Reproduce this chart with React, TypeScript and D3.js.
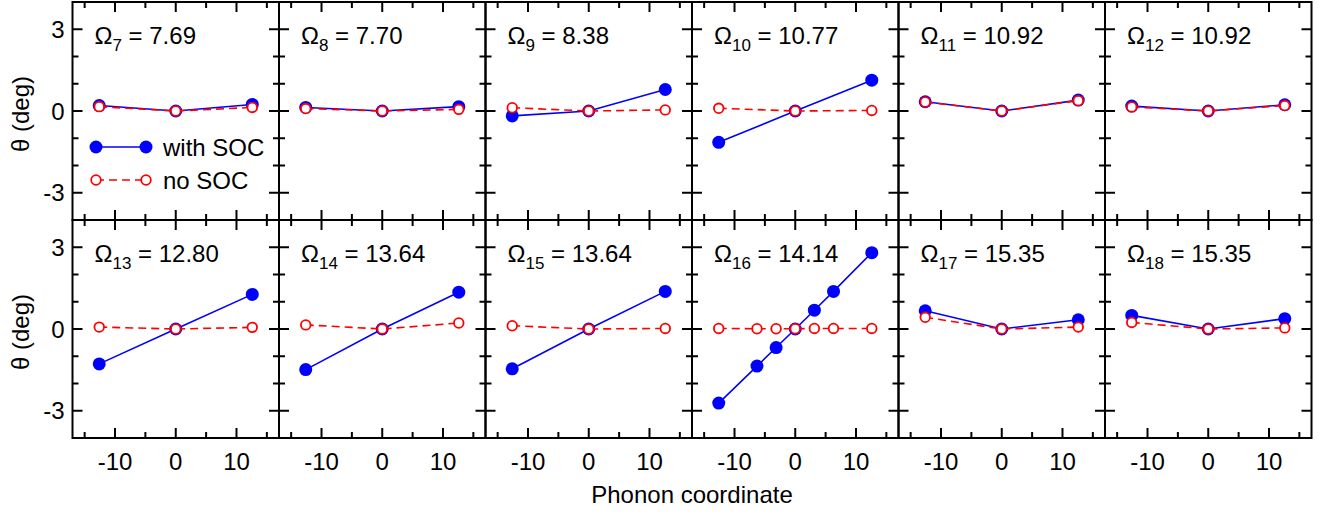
import React from "react";
import * as d3 from "d3";

const modeIndices = [7, 8, 9, 10, 11, 12, 13, 14, 15, 16, 17, 18];
const frequencies = ["7.69", "7.70", "8.38", "10.77", "10.92", "10.92", "12.80", "13.64", "13.64", "14.14", "15.35", "15.35"];

const coords3 = [-12.6, 0, 12.6];
const coords7 = [-12.6, -6.3, -3.15, 0, 3.15, 6.3, 12.6];

const withSOC: number[][] = [
  [0.2, 0, 0.24],
  [0.13, 0, 0.16],
  [-0.18, 0, 0.79],
  [-1.15, 0, 1.13],
  [0.34, 0, 0.4],
  [0.18, 0, 0.23],
  [-1.28, 0, 1.27],
  [-1.49, 0, 1.35],
  [-1.46, 0, 1.38],
  [-2.72, -1.36, -0.68, 0, 0.69, 1.38, 2.8],
  [0.67, 0, 0.34],
  [0.5, 0, 0.38],
];

const noSOC: number[][] = [
  [0.16, 0, 0.13],
  [0.09, 0, 0.06],
  [0.12, 0, 0.04],
  [0.1, 0, 0.02],
  [0.33, 0, 0.38],
  [0.15, 0, 0.2],
  [0.07, 0, 0.06],
  [0.15, 0, 0.22],
  [0.12, 0, 0.02],
  [0.02, 0.01, 0.01, 0.01, 0.02, 0.02, 0.02],
  [0.43, 0, 0.07],
  [0.24, 0, 0.04],
];

const yTickLabels = [-3, 0, 3];
const xTickLabels = [-10, 0, 10];
const yMinorTicks = [-4, -3, -2, -1, 0, 1, 2, 3, 4];
const xMinorTicks = [-15, -10, -5, 0, 5, 10, 15];

const W = 1334;
const H = 514;
const left = 72.5;
const right = 1311.5;
const rowTops = [2, 220];
const rowH = 218;
const nCols = 6;
const colW = (right - left) / nCols;
const FONT = "'Liberation Sans', Arial, Helvetica, sans-serif";
const BLUE = "#0000ff";
const RED = "#ff0000";

function Panel({ idx }: { idx: number }) {
  const col = idx % nCols;
  const row = Math.floor(idx / nCols);
  const x0 = left + col * colW;
  const y0 = rowTops[row];
  const xs = d3.scaleLinear().domain([-17, 17]).range([x0, x0 + colW]);
  const ys = d3.scaleLinear().domain([-4, 4]).range([y0 + rowH, y0]);
  const xc = withSOC[idx].length === 7 ? coords7 : coords3;
  const line = d3
    .line<[number, number]>()
    .x((d) => xs(d[0]))
    .y((d) => ys(d[1]));
  const socPts = xc.map((x, i) => [x, withSOC[idx][i]] as [number, number]);
  const noPts = xc.map((x, i) => [x, noSOC[idx][i]] as [number, number]);
  const major = 10;
  const minor = 6;
  return (
    <g>
      {yMinorTicks.map((t) => {
        const len = yTickLabels.includes(t) ? major : minor;
        const y = ys(t);
        return (
          <g key={"y" + t}>
            <line x1={x0} x2={x0 + len} y1={y} y2={y} stroke="#000" strokeWidth={2} />
            <line x1={x0 + colW - len} x2={x0 + colW} y1={y} y2={y} stroke="#000" strokeWidth={2} />
          </g>
        );
      })}
      {xMinorTicks.map((t) => {
        const len = xTickLabels.includes(t) ? major : minor;
        const x = xs(t);
        return (
          <g key={"x" + t}>
            <line x1={x} x2={x} y1={y0 + rowH} y2={y0 + rowH - len} stroke="#000" strokeWidth={2} />
            <line x1={x} x2={x} y1={y0} y2={y0 + len} stroke="#000" strokeWidth={2} />
          </g>
        );
      })}
      <rect x={x0} y={y0} width={colW} height={rowH} fill="none" stroke="#000" strokeWidth={2} />
      <text x={x0 + 22} y={y0 + 42} fontFamily={FONT} fontSize={24} fill="#000">
        Ω
        <tspan fontSize={17} dy={7}>{modeIndices[idx]}</tspan>
        <tspan dy={-7}>{" = " + frequencies[idx]}</tspan>
      </text>
      <path d={line(socPts) || ""} fill="none" stroke={BLUE} strokeWidth={1.6} />
      {socPts.map((p, i) => (
        <circle key={"s" + i} cx={xs(p[0])} cy={ys(p[1])} r={6.5} fill={BLUE} />
      ))}
      <path d={line(noPts) || ""} fill="none" stroke={RED} strokeWidth={1.6} strokeDasharray="8,5" />
      {noPts.map((p, i) => (
        <circle key={"n" + i} cx={xs(p[0])} cy={ys(p[1])} r={4.8} fill="#fff" stroke={RED} strokeWidth={1.8} />
      ))}
      {col === 0 &&
        yTickLabels.map((t) => (
          <text key={"yl" + t} x={x0 - 8} y={ys(t) + 8.5} textAnchor="end" fontFamily={FONT} fontSize={24}>
            {t}
          </text>
        ))}
      {row === 1 &&
        xTickLabels.map((t) => (
          <text key={"xl" + t} x={xs(t)} y={y0 + rowH + 32} textAnchor="middle" fontFamily={FONT} fontSize={24}>
            {t}
          </text>
        ))}
    </g>
  );
}

export default function App() {
  const legendX1 = 96;
  const legendX2 = 146;
  return (
    <svg width={W} height={H} style={{ position: "absolute", left: 0, top: 0, background: "#fff" }}>
      <rect x={0} y={0} width={W} height={H} fill="#fff" />
      {modeIndices.map((_, i) => (
        <Panel key={i} idx={i} />
      ))}
      {rowTops.map((t, i) => (
        <text
          key={"ylab" + i}
          transform={`translate(29, ${t + rowH / 2 + 3}) rotate(-90)`}
          textAnchor="middle"
          fontFamily={FONT}
          fontSize={24}
        >
          θ (deg)
        </text>
      ))}
      <text x={(left + right) / 2} y={503} textAnchor="middle" fontFamily={FONT} fontSize={24}>
        Phonon coordinate
      </text>
      <g>
        <line x1={legendX1} x2={legendX2} y1={147} y2={147} stroke={BLUE} strokeWidth={1.6} />
        <circle cx={legendX1} cy={147} r={6.5} fill={BLUE} />
        <circle cx={legendX2} cy={147} r={6.5} fill={BLUE} />
        <text x={163} y={156} fontFamily={FONT} fontSize={24}>with SOC</text>
        <line x1={legendX1} x2={legendX2} y1={180} y2={180} stroke={RED} strokeWidth={1.6} strokeDasharray="8,5" />
        <circle cx={legendX1} cy={180} r={4.8} fill="#fff" stroke={RED} strokeWidth={1.8} />
        <circle cx={legendX2} cy={180} r={4.8} fill="#fff" stroke={RED} strokeWidth={1.8} />
        <text x={163} y={189} fontFamily={FONT} fontSize={24}>no SOC</text>
      </g>
    </svg>
  );
}
